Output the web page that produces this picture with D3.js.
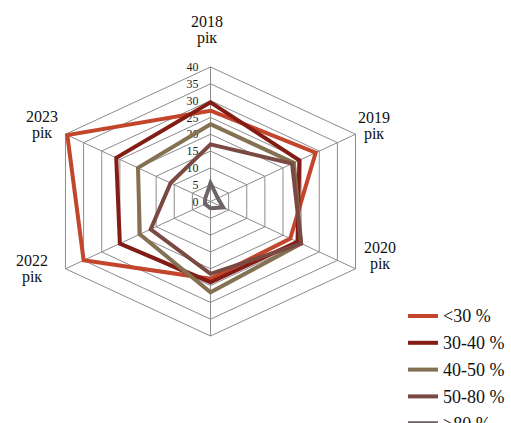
<!DOCTYPE html>
<html>
<head>
<meta charset="utf-8">
<script src="https://cdn.jsdelivr.net/npm/d3@7"></script>
<style>
  body { margin: 0; background: #fff; }
  svg { display: block; }
</style>
</head>
<body>
<div id="graphic"></div>
<script>
// Data
var years = ["2018", "2019", "2020", "2021", "2022", "2023"];
var yearLabels = [["2018", "рік"], ["2019", "рік"], ["2020", "рік"], [], ["2022", "рік"], ["2023", "рік"]];
var seriesNames = ["<30 %", "30-40 %", "40-50 %", "50-80 %", ">80 %"];
var under30 = [27, 29, 22, 23, 35, 39.5];
var from30to40 = [29.5, 24.5, 24, 24, 25, 26];
var from40to50 = [23, 23, 25, 27, 19.5, 20];
var from50to80 = [17, 22.5, 25, 21.5, 16.5, 11];
var over80 = [5.5, 2, 3.5, 2, 1.5, 1.5];
var tickValues = [0, 5, 10, 15, 20, 25, 30, 35, 40];

var seriesValues = [under30, from30to40, from40to50, from50to80, over80];
var colors = ["#c2452c", "#841c16", "#847152", "#7a4a42", "#6e6368"];

var w = 511, h = 423;
var cx = 210.5, cy = 201.5;
var stretchX = 1.245; // the chart is wider than tall
var serif = "'Liberation Serif', 'Times New Roman', serif";

var svg = d3.select('#graphic')
    .append('svg')
    .attr('width', w)
    .attr('height', h)
    .style('font-family', serif);

// Radial scale
var rScale = d3.scaleLinear()
    .domain([0, 40])
    .range([0, 134.5]);

var angle = d3.scalePoint()
    .domain(years)
    .range([0, 2 * Math.PI * 5 / 6]);

function point(year, v) {
    var a = angle(year);
    var r = rScale(v);
    return [cx + Math.sin(a) * r * stretchX, cy - Math.cos(a) * r];
}

var line = d3.line();

// Grid rings
svg.append('g')
    .selectAll('path')
    .data(tickValues.slice(1))
    .enter()
    .append('path')
    .attr('d', function (t) {
        return line(years.map(function (y) { return point(y, t); })) + 'Z';
    })
    .attr('fill', 'none')
    .attr('stroke', '#8c8c8c')
    .attr('stroke-width', 1);

// Spokes
svg.append('g')
    .selectAll('line')
    .data(years)
    .enter()
    .append('line')
    .attr('x1', cx)
    .attr('y1', cy)
    .attr('x2', function (y) { return point(y, 40)[0]; })
    .attr('y2', function (y) { return point(y, 40)[1]; })
    .attr('stroke', '#8c8c8c')
    .attr('stroke-width', 1);

// Tick labels
svg.append('g')
    .selectAll('text')
    .data(tickValues)
    .enter()
    .append('text')
    .attr('x', cx - 12)
    .attr('y', function (t) { return cy - rScale(t); })
    .attr('dy', '0.35em')
    .attr('text-anchor', 'end')
    .attr('font-size', '12px')
    .attr('font-family', serif)
    .attr('fill', '#222')
    .text(function (t) { return t; });

// Series
svg.append('g')
    .selectAll('path')
    .data(seriesValues)
    .enter()
    .append('path')
    .attr('d', function (vals) {
        return line(years.map(function (y, i) { return point(y, vals[i]); })) + 'Z';
    })
    .attr('fill', 'none')
    .attr('stroke', function (d, i) { return colors[i]; })
    .attr('stroke-width', 4)
    .attr('stroke-linejoin', 'miter');

// Category labels
var labelPos = [[207, 27], [374, 123], [380, 253], [0, 0], [32, 266], [42, 122]];
var lab = svg.append('g')
    .selectAll('text')
    .data(yearLabels)
    .enter()
    .append('text')
    .attr('text-anchor', 'middle')
    .attr('font-size', '16px')
    .attr('font-family', serif)
    .attr('fill', '#111')
    .attr('x', function (d, i) { return labelPos[i][0]; })
    .attr('y', function (d, i) { return labelPos[i][1]; });
lab.selectAll('tspan')
    .data(function (d, i) { return d.map(function (s) { return {s: s, x: labelPos[i][0]}; }); })
    .enter()
    .append('tspan')
    .attr('x', function (d) { return d.x; })
    .attr('dy', function (d, j) { return j === 0 ? 0 : 16; })
    .text(function (d) { return d.s; });

// Legend
var legend = svg.append('g')
    .selectAll('g')
    .data(seriesNames)
    .enter()
    .append('g')
    .attr('transform', function (d, i) { return 'translate(408,' + (316 + i * 26.8) + ')'; });
legend.append('line')
    .attr('x1', 0)
    .attr('x2', 30)
    .attr('stroke', function (d, i) { return colors[i]; })
    .attr('stroke-width', 4);
legend.append('text')
    .attr('x', 35)
    .attr('dy', '0.35em')
    .attr('font-size', '18px')
    .attr('font-family', serif)
    .attr('fill', '#111')
    .text(function (d) { return d; });
</script>
</body>
</html>
